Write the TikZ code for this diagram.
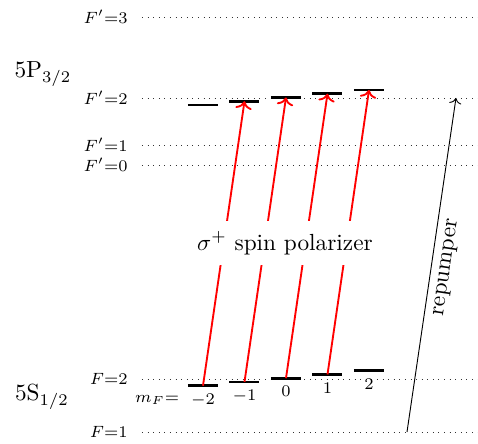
\documentclass[tikz,border=0pt]{standalone}
\usepackage{amsmath,amssymb}
\usepackage{tikz}
\usetikzlibrary{arrows.meta,positioning,calc}

\tikzset{
  level/.style={dotted,black!80},
  sublevel/.style={line width=1.2pt,black},
  pump/.style={->,thick,red},
  lvllab/.style={anchor=east,font=\scriptsize}
}

\begin{document}
\begin{tikzpicture}[x=0.429pt,y=-0.429pt]
  \useasboundingbox (0,0) rectangle (478,444);
  % hyperfine levels
  \foreach \y/\lab/\name in {17/{F'{=}3}/e3,98/{F'{=}2}/e2,145/{F'{=}1}/e1,165/{F'{=}0}/e0,379/{F{=}2}/g2,432/{F{=}1}/g1}{
    \node[lvllab] (\name) at (136,\y) {\(\lab\)};
    \draw[level] (142,\y) -- (478,\y);
  }
  \node (P32) at (43,74) {\(\mathrm{5P}_{3/2}\)};
  \node (S12) at (42,397) {\(\mathrm{5S}_{1/2}\)};
  % Zeeman sublevels
  \foreach \i/\lab in {1/-2,2/-1,3/0,4/1,5/2}{
    \coordinate (u\i) at ({286+41.5*(\i-3)},{97.5-3.75*(\i-3)});
    \coordinate (l\i) at ({286+41.5*(\i-3)},{378.2-3.75*(\i-3)});
    \draw[sublevel] (u\i) +(-15,0) -- +(15,0);
    \draw[sublevel] (l\i) +(-15,0) -- +(15,0);
    \node[below,font=\scriptsize] (m\i) at (l\i) {\(\lab\)};
  }
  \node[left=-2pt of m1,font=\scriptsize] (mF) {\(m_F{=}\)};
  % optical pumping
  \foreach \i/\j in {1/2,2/3,3/4,4/5}
    \draw[pump] (l\i) -- (u\j);
  \node[fill=white,inner sep=4.5pt] (sigma) at (285,243) {\(\sigma^+\) spin polarizer};
  % repumper
  \coordinate (rp0) at (407,432);
  \coordinate (rp1) at (456,98);
  \draw[->] (rp0) -- node[midway,sloped,below] (rplab) {repumper} (rp1);
\end{tikzpicture}
\end{document}
